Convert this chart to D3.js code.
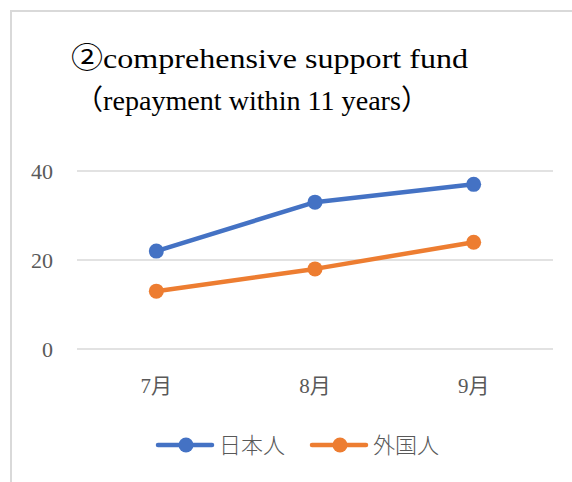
<!DOCTYPE html>
<html>
<head>
<meta charset="utf-8">
<script src="https://cdn.jsdelivr.net/npm/d3@7"></script>
<style>
  body { margin: 0; background: #fff; }
  text { font-family: "Liberation Serif", "Noto Sans CJK JP", serif; }
</style>
</head>
<body>
<svg id="chart" width="572" height="482"></svg>
<script>
// data
let months = ["7月", "8月", "9月"];
let seriesNames = ["日本人", "外国人"];
let japanese = [22, 33, 37];
let foreign = [13, 18, 24];
let yTicks = [0, 20, 40];
let titleLines = ["②comprehensive support fund", "（repayment within 11 years）"];

let colors = ["#4472C4", "#ED7D31"];
let allSeries = [japanese, foreign];

let svg = d3.select("#chart");

// outer frame
svg.append("rect")
  .attr("x", 11).attr("y", 11)
  .attr("width", 600).attr("height", 520)
  .attr("fill", "#fff")
  .attr("stroke", "#D9D9D9")
  .attr("stroke-width", 2);

// title (stretched to match the wide mincho face)
let titleX = [71, 75];
let titleLen = [397, 354];
svg.append("g")
  .selectAll("text")
  .data(titleLines)
  .enter()
  .append("text")
  .attr("x", (d, i) => titleX[i])
  .attr("y", (d, i) => 68 + i * 42)
  .attr("font-size", 28)
  .attr("textLength", (d, i) => titleLen[i])
  .attr("lengthAdjust", "spacingAndGlyphs")
  .attr("fill", "#000")
  .text(d => d);

let plotLeft = 77, plotRight = 553, plotTop = 171, plotBottom = 349;

let x = d3.scaleBand().domain(months).range([plotLeft, plotRight]);
let y = d3.scaleLinear().domain([0, 40]).range([plotBottom, plotTop]);

// gridlines
svg.append("g")
  .selectAll("line")
  .data(yTicks)
  .enter()
  .append("line")
  .attr("x1", plotLeft).attr("x2", plotRight)
  .attr("y1", d => y(d)).attr("y2", d => y(d))
  .attr("stroke", "#D9D9D9")
  .attr("stroke-width", 1.5);

// y axis labels
let yAxis = svg.append("g")
  .attr("transform", "translate(" + 53 + ",0)")
  .call(d3.axisLeft(y).tickValues(yTicks).tickSize(0).tickPadding(0));
yAxis.select(".domain").remove();
yAxis.selectAll("text")
  .attr("font-size", 22)
  .attr("font-family", "Liberation Serif, Noto Sans CJK JP, serif")
  .attr("fill", "#595959");

// x axis labels
let xAxis = svg.append("g")
  .attr("transform", "translate(0," + 378 + ")")
  .call(d3.axisBottom(x).tickSize(0).tickPadding(0));
xAxis.select(".domain").remove();
xAxis.selectAll("text")
  .attr("font-size", 21)
  .attr("font-family", "Liberation Serif, Noto Sans CJK JP, serif")
  .attr("fill", "#595959");

// lines
let line = d3.line()
  .x((d, i) => x(months[i]) + x.bandwidth() / 2)
  .y(d => y(d));

allSeries.forEach(function (s, k) {
  svg.append("path")
    .datum(s)
    .attr("d", line)
    .attr("fill", "none")
    .attr("stroke", colors[k])
    .attr("stroke-width", 4.5)
    .attr("stroke-linejoin", "round")
    .attr("stroke-linecap", "round");

  svg.append("g")
    .selectAll("circle")
    .data(s)
    .enter()
    .append("circle")
    .attr("cx", (d, i) => x(months[i]) + x.bandwidth() / 2)
    .attr("cy", d => y(d))
    .attr("r", 7.5)
    .attr("fill", colors[k]);
});

// legend
let legendX = [158, 312];
let legend = svg.append("g")
  .selectAll("g")
  .data(seriesNames)
  .enter()
  .append("g")
  .attr("transform", (d, i) => "translate(" + legendX[i] + ",445)");

legend.append("line")
  .attr("x1", 0).attr("x2", 54)
  .attr("stroke", (d, i) => colors[i])
  .attr("stroke-width", 4.5)
  .attr("stroke-linecap", "round");
legend.append("circle")
  .attr("cx", 28).attr("r", 7.5)
  .attr("fill", (d, i) => colors[i]);
legend.append("text")
  .attr("x", 61)
  .attr("dy", "0.36em")
  .attr("font-size", 22)
  .attr("font-family", "Noto Sans CJK JP, sans-serif")
  .attr("font-weight", 300)
  .attr("fill", "#595959")
  .text(d => d);
</script>
</body>
</html>
